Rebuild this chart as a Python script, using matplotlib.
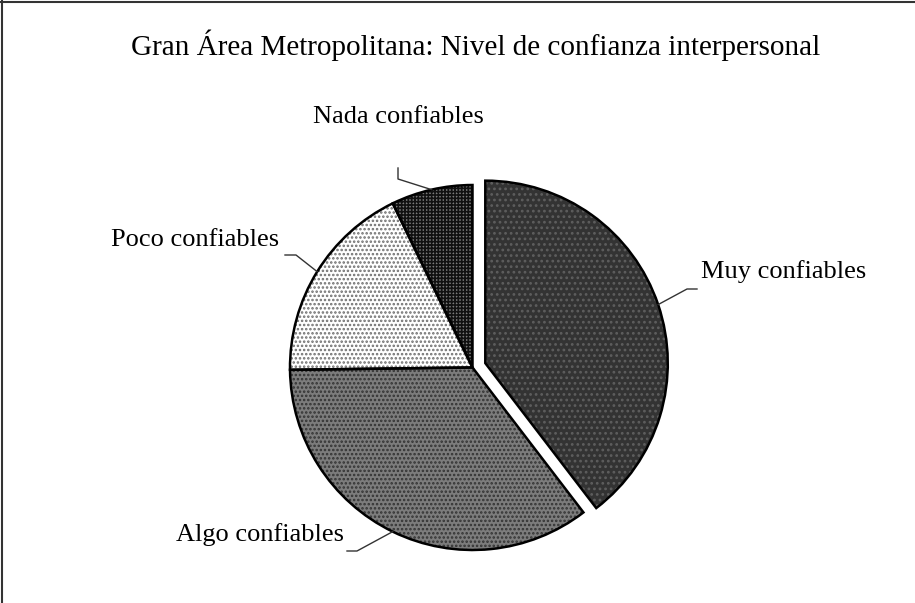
import numpy as np
import matplotlib
matplotlib.use("Agg")
import matplotlib.pyplot as plt
from matplotlib.lines import Line2D

# datos (porcentaje estimado de la figura)
categorias = ["Muy confiables", "Algo confiables", "Poco confiables", "Nada confiables"]
valores = [39.6, 35.2, 18.0, 7.2]

# estilos de relleno
rellenos = ["#333333", "#7c7c7c", "#ffffff", "#7a7a7a"]
tramas = ["...", "....", "....", "+++++"]
color_trama = ["#5e5e5e", "#333333", "#6e6e6e", "#111111"]
separar = [0.074, 0, 0, 0]

plt.rcParams["font.family"] = ["Liberation Serif", "DejaVu Serif"]
plt.rcParams["hatch.linewidth"] = 1.2

fig = plt.figure(figsize=(9.15, 6.03), dpi=100)
R = 182.5
cx, cy = 472.5, 367.5
ax = fig.add_axes([0, 0, 1, 1])

# capa de relleno con trama
wedges, _ = ax.pie(valores, startangle=90, counterclock=False, explode=separar,
                   radius=1, center=(0, 0), frame=True)
for w, fc, h, hc in zip(wedges, rellenos, tramas, color_trama):
    w.set_facecolor(fc)
    w.set_hatch(h)
    w.set_edgecolor(hc)
    w.set_linewidth(0)

# capa de contorno
bordes, _ = ax.pie(valores, startangle=90, counterclock=False, explode=separar,
                   radius=1, center=(0, 0), frame=True,
                   wedgeprops=dict(facecolor="none", edgecolor="black", linewidth=1.8))
ax.set_xlim(-cx / R, (915 - cx) / R)
ax.set_ylim(-(603 - cy) / R, cy / R)
ax.set_aspect("auto")
ax.axis("off")


def px(x, y):
    return (x - cx) / R, (cy - y) / R

# posiciones de etiquetas (pixeles): texto, alineacion, codo de la linea, fin de la linea
etiquetas = [
    ((701, 272), "left", (687, 289), (697, 289)),
    ((344, 535), "right", (357, 551), (347, 551)),
    ((279, 240), "right", (296, 255), (285, 255)),
    ((398, 117), "center", (398, 179), (398, 168)),
]

for w, nombre, (tpos, ha, codo, fin) in zip(bordes, categorias, etiquetas):
    ang = np.deg2rad((w.theta1 + w.theta2) / 2)
    x0 = w.center[0] + np.cos(ang)
    y0 = w.center[1] + np.sin(ang)
    xs = [x0, px(*codo)[0], px(*fin)[0]]
    ys = [y0, px(*codo)[1], px(*fin)[1]]
    ax.plot(xs, ys, color="#333333", lw=1.0)
    tx, ty = px(*tpos)
    ax.text(tx, ty, nombre, ha=ha, va="center", fontsize=19)

fig.text(476 / 915, 1 - 45 / 603, "Gran Área Metropolitana: Nivel de confianza interpersonal",
         ha="center", va="center", fontsize=21)

# marco superior e izquierdo
fig.add_artist(Line2D([0, 1], [1 - 1.5 / 603] * 2, transform=fig.transFigure, color="#333333", lw=1.5))
fig.add_artist(Line2D([1.5 / 915] * 2, [0, 1], transform=fig.transFigure, color="#333333", lw=1.5))

fig.savefig("out.png", dpi=100)
